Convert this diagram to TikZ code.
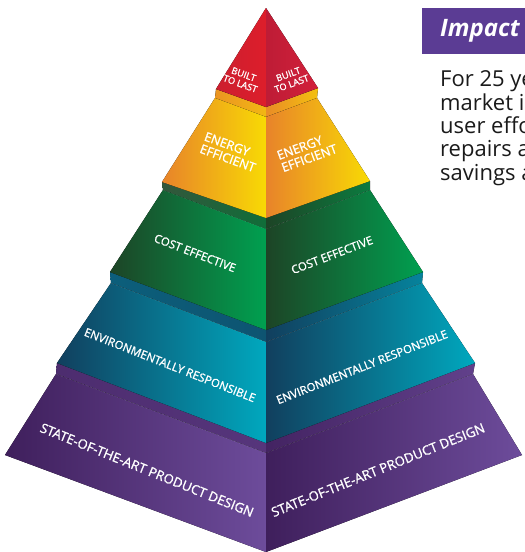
\documentclass[tikz,border=0pt]{standalone}
\usepackage{fontspec}
\setmainfont{Open Sans}
\newfontfamily\lblfont[FakeBold=1.2]{Open Sans}
\definecolor{redL}{HTML}{CC1F2F}
\definecolor{redR}{HTML}{DD1E2B}
\definecolor{crimL}{HTML}{BE1C36}
\definecolor{crimR}{HTML}{D2203A}
\definecolor{orgL}{HTML}{E8832A}
\definecolor{orgR}{HTML}{F8DA04}
\definecolor{grnL}{HTML}{1D4426}
\definecolor{grnR}{HTML}{00A050}
\definecolor{tealL}{HTML}{113F5E}
\definecolor{tealR}{HTML}{00A8BE}
\definecolor{purL}{HTML}{3F1F5C}
\definecolor{purR}{HTML}{6D4C9B}
\definecolor{hdr}{HTML}{5B3C94}
\definecolor{bodytext}{HTML}{1A1A1A}

\begin{document}
\begin{tikzpicture}[x=1pt,y=-1pt,
  face/.style={left color=#1L,right color=#1R},
  band/.style 2 args={left color=#1,right color=#2},
  rim/.style={white,opacity=.35,densely dotted,line width=.4pt},
  lbl/.style={text=white,inner sep=0pt,align=center,font=\lblfont\fontsize{11.5}{12}\selectfont},
  body/.style={text=bodytext,inner sep=0pt,anchor=base west,font=\fontsize{22}{23}\selectfont}]

\useasboundingbox (0,0) rectangle (525,552);
\clip (0,0) rectangle (525,552);

% corners of the five tiers
\coordinate (apex) at (266,8);
\coordinate (red-l) at (216,89);
\coordinate (red-c) at (266,107);
\coordinate (red-r) at (318,88);

\coordinate (org-tl) at (215,98);
\coordinate (org-tc) at (266,117);
\coordinate (org-tr) at (317,98);
\coordinate (org-bl) at (162,182);
\coordinate (org-bc) at (266,218);
\coordinate (org-br) at (370,181);

\coordinate (grn-tl) at (163,190);
\coordinate (grn-tc) at (266,229);
\coordinate (grn-tr) at (370,190);
\coordinate (grn-bl) at (110,272);
\coordinate (grn-bc) at (266,330);
\coordinate (grn-br) at (423,272);

\coordinate (teal-tl) at (111,283);
\coordinate (teal-tc) at (266,342);
\coordinate (teal-tr) at (422,283);
\coordinate (teal-bl) at (57,363);
\coordinate (teal-bc) at (266,443);
\coordinate (teal-br) at (475,363);

\coordinate (pur-tl) at (56,374);
\coordinate (pur-tc) at (266,453);
\coordinate (pur-tr) at (473,374);
\coordinate (pur-bl) at (5,455);
\coordinate (pur-bc) at (266,552);
\coordinate (pur-br) at (522,455);

% top bands
\fill[band={orgL!80!orgR}{orgL!40!orgR}] (red-l) -- (red-c) -- (org-tc) -- (org-tl) -- cycle;
\fill[band={orgL!90!orgR}{orgL!30!orgR}] (red-c) -- (red-r) -- (org-tr) -- (org-tc) -- cycle;
\fill[band={grnL!90!white}{grnL!55!grnR}] (org-bl) -- (org-bc) -- (grn-tc) -- (grn-tl) -- cycle;
\fill[band={grnL}{grnL!40!grnR}] (org-bc) -- (org-br) -- (grn-tr) -- (grn-tc) -- cycle;
\fill[band={tealL!70!tealR}{tealL!80!tealR}] (grn-bl) -- (grn-bc) -- (teal-tc) -- (teal-tl) -- cycle;
\fill[band={tealL}{tealL!35!tealR}] (grn-bc) -- (grn-br) -- (teal-tr) -- (teal-tc) -- cycle;
\fill[band={purL!70!purR}{purL!50!purR}] (teal-bl) -- (teal-bc) -- (pur-tc) -- (pur-tl) -- cycle;
\fill[band={purL!90!purR}{purL!25!purR}] (teal-bc) -- (teal-br) -- (pur-tr) -- (pur-tc) -- cycle;

% faces
\fill[face=pur] (pur-tl) -- (pur-tc) -- (pur-bc) -- (pur-bl) -- cycle;
\fill[face=pur] (pur-tc) -- (pur-tr) -- (pur-br) -- (pur-bc) -- cycle;
\fill[face=teal] (teal-tl) -- (teal-tc) -- (teal-bc) -- (teal-bl) -- cycle;
\fill[face=teal] (teal-tc) -- (teal-tr) -- (teal-br) -- (teal-bc) -- cycle;
\fill[face=grn] (grn-tl) -- (grn-tc) -- (grn-bc) -- (grn-bl) -- cycle;
\fill[face=grn] (grn-tc) -- (grn-tr) -- (grn-br) -- (grn-bc) -- cycle;
\fill[face=org] (org-tl) -- (org-tc) -- (org-bc) -- (org-bl) -- cycle;
\fill[face=org] (org-tc) -- (org-tr) -- (org-br) -- (org-bc) -- cycle;
\fill[face=red] (apex) -- (red-l) -- (red-c) -- cycle;
\fill[face=crim] (apex) -- (red-c) -- (red-r) -- cycle;

\draw[rim] (grn-tl) -- (grn-tc) -- (grn-tr);
\draw[rim] (teal-tl) -- (teal-tc) -- (teal-tr);
\draw[rim] (pur-tl) -- (pur-tc) -- (pur-tr);

% labels
\node[lbl,rotate=-20,font=\lblfont\fontsize{9.3}{10}\selectfont] (builtleft) at (242,79) {BUILT\\TO LAST};
\node[lbl,rotate=20,font=\lblfont\fontsize{9.3}{10}\selectfont] (builtright) at (290,79) {BUILT\\TO LAST};
\node[lbl,rotate=-20,align=left,font=\lblfont\fontsize{12.5}{13}\selectfont] (energyleft) at (230,152) {ENERGY\\EFFICIENT};
\node[lbl,rotate=20,align=left,font=\lblfont\fontsize{12.5}{13}\selectfont] (energyright) at (307,152) {ENERGY\\EFFICIENT};
\node[lbl,rotate=-21,font=\lblfont\fontsize{11.5}{12}\selectfont] (costleft) at (195,253) {COST EFFECTIVE};
\node[lbl,rotate=21,font=\lblfont\fontsize{11.5}{12}\selectfont] (costright) at (332,255) {COST EFFECTIVE};
\node[lbl,rotate=-21.5] (envleft) at (170,365) {ENVIRONMENTALLY RESPONSIBLE};
\node[lbl,rotate=21.5] (envright) at (362,367) {ENVIRONMENTALLY RESPONSIBLE};
\node[lbl,rotate=-22,font=\lblfont\fontsize{13.2}{14}\selectfont] (stateleft) at (147,470) {STATE-OF-THE-ART PRODUCT DESIGN};
\node[lbl,rotate=22,font=\lblfont\fontsize{13.2}{14}\selectfont] (stateright) at (378,470) {STATE-OF-THE-ART PRODUCT DESIGN};

% side text
\node[fill=hdr,text=white,anchor=west,minimum height=46pt,text width=100pt,inner xsep=18pt,
  font=\fontsize{24}{26}\bfseries\itshape] (impact) at (422,31) {Impact};
\node[body] (lineone) at (440,86.7) {For 25 ye};
\node[body] (linetwo) at (440,110) {market in};
\node[body] (linethree) at (440,133.3) {user effo};
\node[body] (linefour) at (440,156.7) {repairs a};
\node[body] (linefive) at (440,180) {savings a};
\end{tikzpicture}
\end{document}
